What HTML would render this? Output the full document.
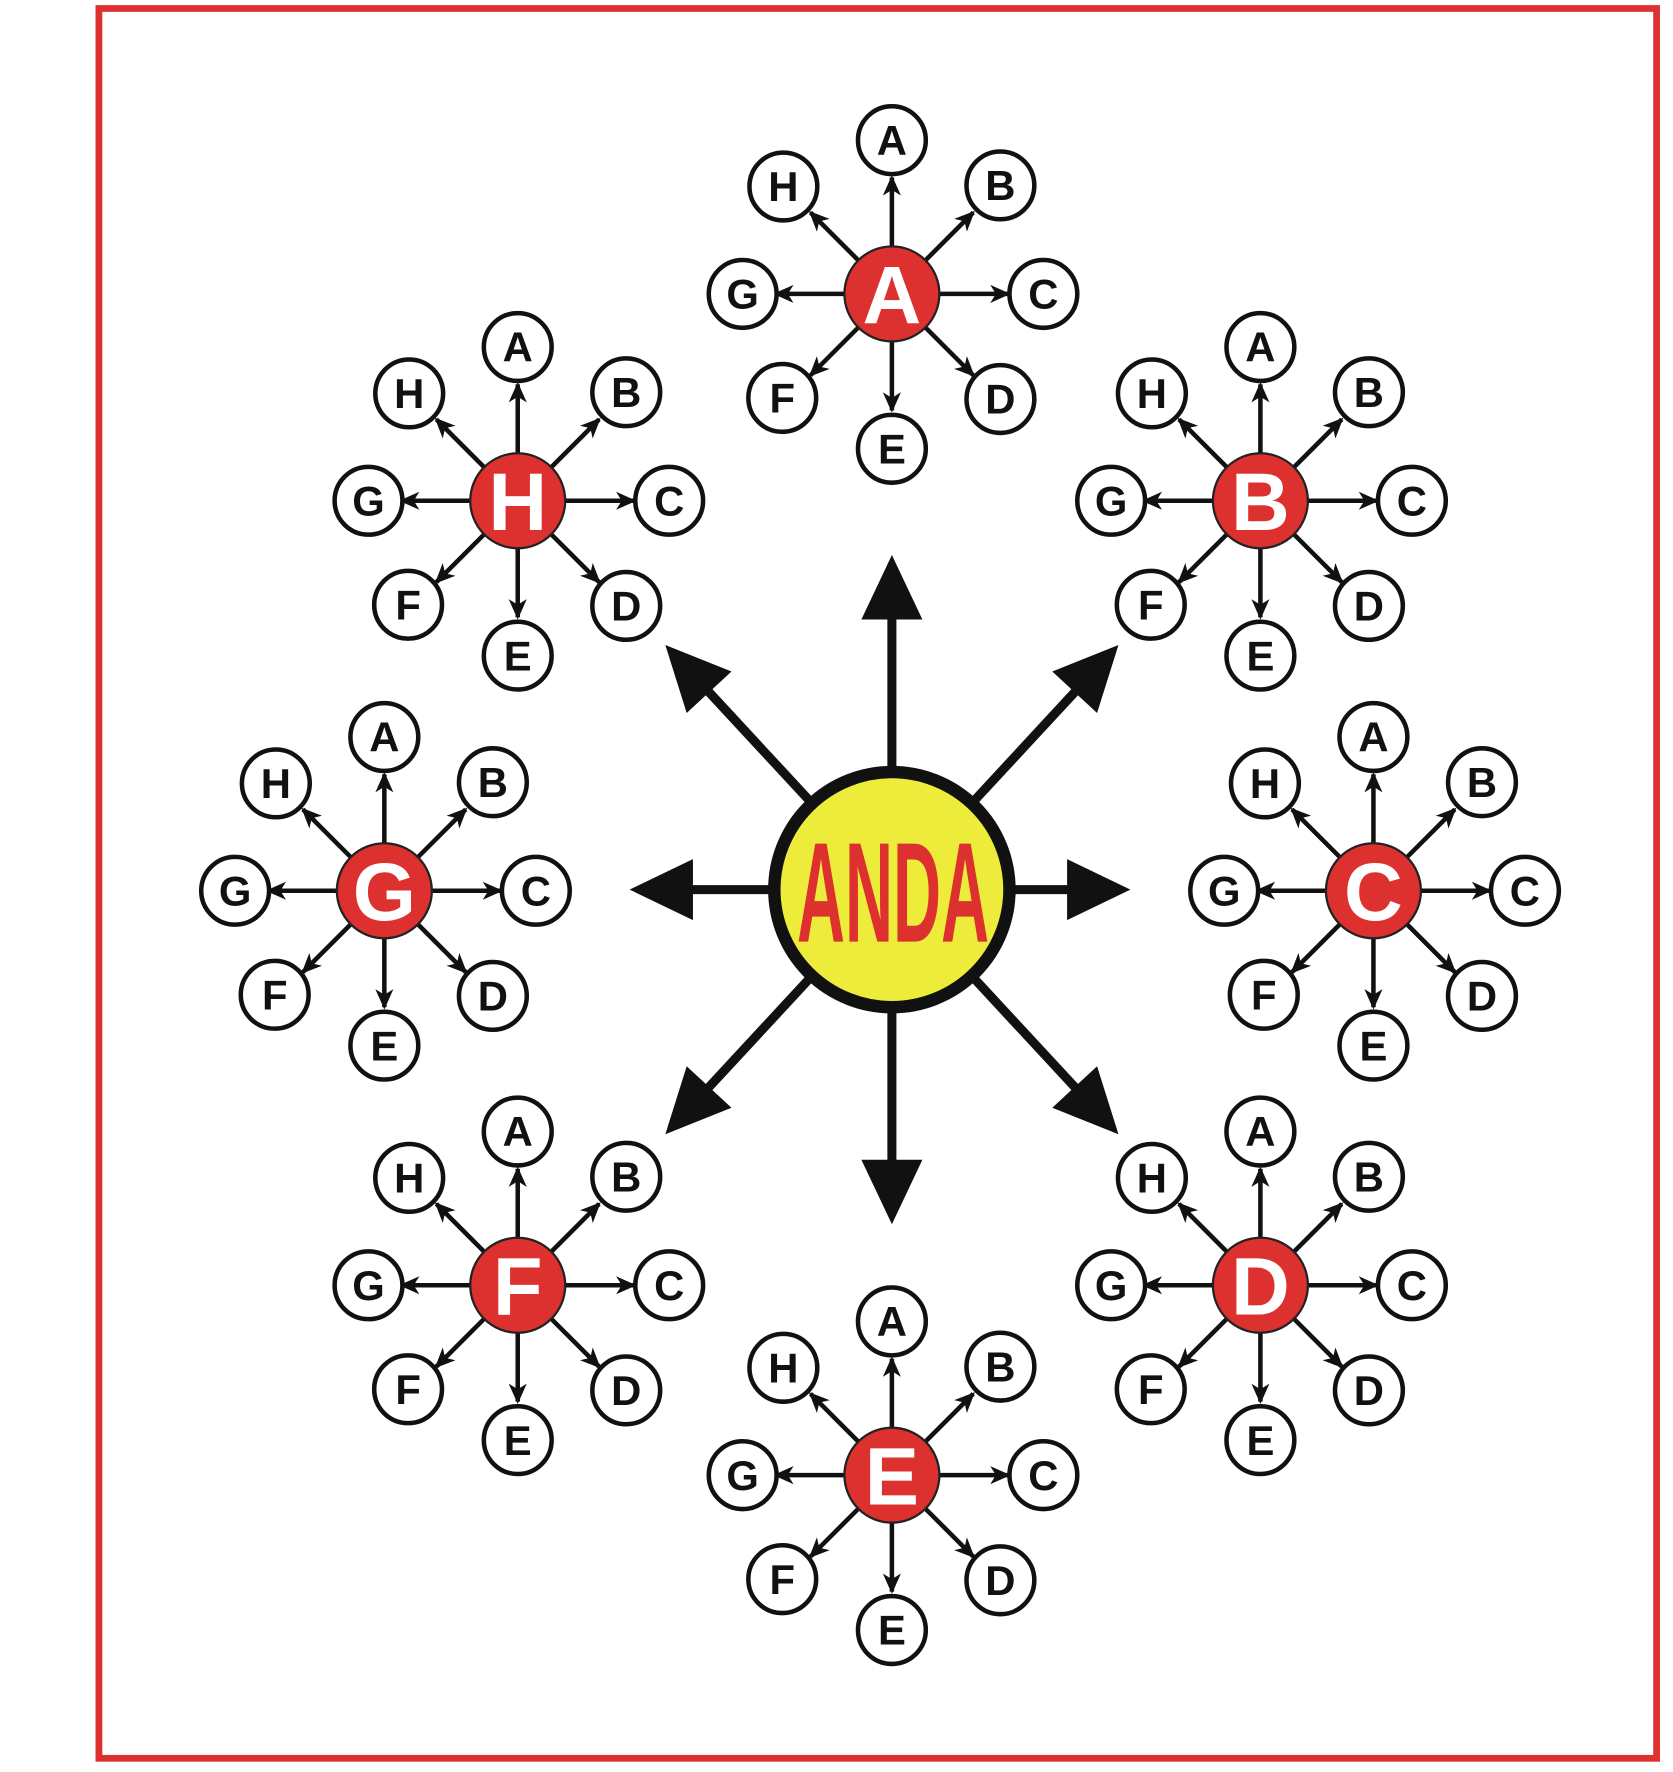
<!DOCTYPE html>
<html><head><meta charset="utf-8"><style>
html,body{margin:0;padding:0;background:#fff;}
svg{display:block;}
.s{fill:#fff;stroke:#111;stroke-width:4;}
.h{fill:#dd3130;stroke:#222;stroke-width:2;}
.t{font-family:"Liberation Sans",sans-serif;font-weight:bold;font-size:37px;fill:#111;text-anchor:middle;}
.ht{font-family:"Liberation Sans",sans-serif;font-weight:bold;font-size:72px;fill:#fff;text-anchor:middle;}
</style></head><body>
<svg width="1673" height="1772" viewBox="0 0 1480 1567.6" xmlns="http://www.w3.org/2000/svg">
<defs>
<marker id="m" markerUnits="userSpaceOnUse" markerWidth="18" markerHeight="16" refX="16" refY="8" orient="auto" viewBox="0 0 18 16">
<path d="M0,0 L18,8 L0,16 L5,8 z" fill="#111"/>
</marker>
</defs>
<rect x="87.5" y="7.5" width="1378" height="1548" fill="none" stroke="#dd3130" stroke-width="6"/>

<!-- big arrows -->
<g fill="#111" stroke="#111">
<g transform="rotate(0 789 787)"><line x1="789" y1="787" x2="789" y2="540" stroke-width="8"/><polygon points="789,491 762,548 816,548" stroke="none"/></g>
<g transform="rotate(180 789 787)"><line x1="789" y1="787" x2="789" y2="540" stroke-width="8"/><polygon points="789,491 762,548 816,548" stroke="none"/></g>
<g transform="rotate(42.8 789 787)"><line x1="789" y1="787" x2="789" y2="540" stroke-width="8"/><polygon points="789,492 762,549 816,549" stroke="none"/></g>
<g transform="rotate(-42.8 789 787)"><line x1="789" y1="787" x2="789" y2="540" stroke-width="8"/><polygon points="789,492 762,549 816,549" stroke="none"/></g>
<g transform="rotate(137.2 789 787)"><line x1="789" y1="787" x2="789" y2="540" stroke-width="8"/><polygon points="789,492 762,549 816,549" stroke="none"/></g>
<g transform="rotate(-137.2 789 787)"><line x1="789" y1="787" x2="789" y2="540" stroke-width="8"/><polygon points="789,492 762,549 816,549" stroke="none"/></g>
<g transform="rotate(90 789 787)"><line x1="789" y1="787" x2="789" y2="620" stroke-width="8"/><polygon points="789,576 762,632 816,632" stroke="none"/></g>
<g transform="rotate(-90 789 787)"><line x1="789" y1="787" x2="789" y2="600" stroke-width="8"/><polygon points="789,555 762,611 816,611" stroke="none"/></g>
</g>
<circle cx="789" cy="787" r="104" fill="#eeec3a" stroke="#111" stroke-width="11"/>
<text x="790" y="833" font-family="Liberation Sans, sans-serif" font-weight="bold" font-size="126" fill="#dd3130" text-anchor="middle" textLength="170" lengthAdjust="spacingAndGlyphs">ANDA</text>

<!-- cluster A -->
<g transform="translate(789 260)">
<g stroke="#111" stroke-width="4" marker-end="url(#m)"><line x1="0" y1="-42" x2="0" y2="-103"/><line x1="30" y1="-30" x2="72" y2="-72"/><line x1="42" y1="0" x2="103" y2="0"/><line x1="30" y1="30" x2="72" y2="72"/><line x1="0" y1="42" x2="0" y2="103"/><line x1="-30" y1="30" x2="-72" y2="72"/><line x1="-42" y1="0" x2="-103" y2="0"/><line x1="-30" y1="-30" x2="-72" y2="-72"/></g>
<circle class="h" r="42"/><text class="ht" y="26">A</text>
<circle class="s" cx="0" cy="-136" r="30"/><text class="t" x="0" y="-123">A</text>
<circle class="s" cx="96" cy="-96" r="30"/><text class="t" x="96" y="-83">B</text>
<circle class="s" cx="134" cy="0" r="30"/><text class="t" x="134" y="13">C</text>
<circle class="s" cx="96" cy="93" r="30"/><text class="t" x="96" y="106">D</text>
<circle class="s" cx="0" cy="137" r="30"/><text class="t" x="0" y="150">E</text>
<circle class="s" cx="-97" cy="92" r="30"/><text class="t" x="-97" y="105">F</text>
<circle class="s" cx="-132" cy="0" r="30"/><text class="t" x="-132" y="13">G</text>
<circle class="s" cx="-96" cy="-95" r="30"/><text class="t" x="-96" y="-82">H</text>
</g>
<!-- cluster B -->
<g transform="translate(1115 443)">
<g stroke="#111" stroke-width="4" marker-end="url(#m)"><line x1="0" y1="-42" x2="0" y2="-103"/><line x1="30" y1="-30" x2="72" y2="-72"/><line x1="42" y1="0" x2="103" y2="0"/><line x1="30" y1="30" x2="72" y2="72"/><line x1="0" y1="42" x2="0" y2="103"/><line x1="-30" y1="30" x2="-72" y2="72"/><line x1="-42" y1="0" x2="-103" y2="0"/><line x1="-30" y1="-30" x2="-72" y2="-72"/></g>
<circle class="h" r="42"/><text class="ht" y="26">B</text>
<circle class="s" cx="0" cy="-136" r="30"/><text class="t" x="0" y="-123">A</text>
<circle class="s" cx="96" cy="-96" r="30"/><text class="t" x="96" y="-83">B</text>
<circle class="s" cx="134" cy="0" r="30"/><text class="t" x="134" y="13">C</text>
<circle class="s" cx="96" cy="93" r="30"/><text class="t" x="96" y="106">D</text>
<circle class="s" cx="0" cy="137" r="30"/><text class="t" x="0" y="150">E</text>
<circle class="s" cx="-97" cy="92" r="30"/><text class="t" x="-97" y="105">F</text>
<circle class="s" cx="-132" cy="0" r="30"/><text class="t" x="-132" y="13">G</text>
<circle class="s" cx="-96" cy="-95" r="30"/><text class="t" x="-96" y="-82">H</text>
</g>
<!-- cluster C -->
<g transform="translate(1215 788)">
<g stroke="#111" stroke-width="4" marker-end="url(#m)"><line x1="0" y1="-42" x2="0" y2="-103"/><line x1="30" y1="-30" x2="72" y2="-72"/><line x1="42" y1="0" x2="103" y2="0"/><line x1="30" y1="30" x2="72" y2="72"/><line x1="0" y1="42" x2="0" y2="103"/><line x1="-30" y1="30" x2="-72" y2="72"/><line x1="-42" y1="0" x2="-103" y2="0"/><line x1="-30" y1="-30" x2="-72" y2="-72"/></g>
<circle class="h" r="42"/><text class="ht" y="26">C</text>
<circle class="s" cx="0" cy="-136" r="30"/><text class="t" x="0" y="-123">A</text>
<circle class="s" cx="96" cy="-96" r="30"/><text class="t" x="96" y="-83">B</text>
<circle class="s" cx="134" cy="0" r="30"/><text class="t" x="134" y="13">C</text>
<circle class="s" cx="96" cy="93" r="30"/><text class="t" x="96" y="106">D</text>
<circle class="s" cx="0" cy="137" r="30"/><text class="t" x="0" y="150">E</text>
<circle class="s" cx="-97" cy="92" r="30"/><text class="t" x="-97" y="105">F</text>
<circle class="s" cx="-132" cy="0" r="30"/><text class="t" x="-132" y="13">G</text>
<circle class="s" cx="-96" cy="-95" r="30"/><text class="t" x="-96" y="-82">H</text>
</g>
<!-- cluster D -->
<g transform="translate(1115 1137)">
<g stroke="#111" stroke-width="4" marker-end="url(#m)"><line x1="0" y1="-42" x2="0" y2="-103"/><line x1="30" y1="-30" x2="72" y2="-72"/><line x1="42" y1="0" x2="103" y2="0"/><line x1="30" y1="30" x2="72" y2="72"/><line x1="0" y1="42" x2="0" y2="103"/><line x1="-30" y1="30" x2="-72" y2="72"/><line x1="-42" y1="0" x2="-103" y2="0"/><line x1="-30" y1="-30" x2="-72" y2="-72"/></g>
<circle class="h" r="42"/><text class="ht" y="26">D</text>
<circle class="s" cx="0" cy="-136" r="30"/><text class="t" x="0" y="-123">A</text>
<circle class="s" cx="96" cy="-96" r="30"/><text class="t" x="96" y="-83">B</text>
<circle class="s" cx="134" cy="0" r="30"/><text class="t" x="134" y="13">C</text>
<circle class="s" cx="96" cy="93" r="30"/><text class="t" x="96" y="106">D</text>
<circle class="s" cx="0" cy="137" r="30"/><text class="t" x="0" y="150">E</text>
<circle class="s" cx="-97" cy="92" r="30"/><text class="t" x="-97" y="105">F</text>
<circle class="s" cx="-132" cy="0" r="30"/><text class="t" x="-132" y="13">G</text>
<circle class="s" cx="-96" cy="-95" r="30"/><text class="t" x="-96" y="-82">H</text>
</g>
<!-- cluster E -->
<g transform="translate(789 1305)">
<g stroke="#111" stroke-width="4" marker-end="url(#m)"><line x1="0" y1="-42" x2="0" y2="-103"/><line x1="30" y1="-30" x2="72" y2="-72"/><line x1="42" y1="0" x2="103" y2="0"/><line x1="30" y1="30" x2="72" y2="72"/><line x1="0" y1="42" x2="0" y2="103"/><line x1="-30" y1="30" x2="-72" y2="72"/><line x1="-42" y1="0" x2="-103" y2="0"/><line x1="-30" y1="-30" x2="-72" y2="-72"/></g>
<circle class="h" r="42"/><text class="ht" y="26">E</text>
<circle class="s" cx="0" cy="-136" r="30"/><text class="t" x="0" y="-123">A</text>
<circle class="s" cx="96" cy="-96" r="30"/><text class="t" x="96" y="-83">B</text>
<circle class="s" cx="134" cy="0" r="30"/><text class="t" x="134" y="13">C</text>
<circle class="s" cx="96" cy="93" r="30"/><text class="t" x="96" y="106">D</text>
<circle class="s" cx="0" cy="137" r="30"/><text class="t" x="0" y="150">E</text>
<circle class="s" cx="-97" cy="92" r="30"/><text class="t" x="-97" y="105">F</text>
<circle class="s" cx="-132" cy="0" r="30"/><text class="t" x="-132" y="13">G</text>
<circle class="s" cx="-96" cy="-95" r="30"/><text class="t" x="-96" y="-82">H</text>
</g>
<!-- cluster F -->
<g transform="translate(458 1137)">
<g stroke="#111" stroke-width="4" marker-end="url(#m)"><line x1="0" y1="-42" x2="0" y2="-103"/><line x1="30" y1="-30" x2="72" y2="-72"/><line x1="42" y1="0" x2="103" y2="0"/><line x1="30" y1="30" x2="72" y2="72"/><line x1="0" y1="42" x2="0" y2="103"/><line x1="-30" y1="30" x2="-72" y2="72"/><line x1="-42" y1="0" x2="-103" y2="0"/><line x1="-30" y1="-30" x2="-72" y2="-72"/></g>
<circle class="h" r="42"/><text class="ht" y="26">F</text>
<circle class="s" cx="0" cy="-136" r="30"/><text class="t" x="0" y="-123">A</text>
<circle class="s" cx="96" cy="-96" r="30"/><text class="t" x="96" y="-83">B</text>
<circle class="s" cx="134" cy="0" r="30"/><text class="t" x="134" y="13">C</text>
<circle class="s" cx="96" cy="93" r="30"/><text class="t" x="96" y="106">D</text>
<circle class="s" cx="0" cy="137" r="30"/><text class="t" x="0" y="150">E</text>
<circle class="s" cx="-97" cy="92" r="30"/><text class="t" x="-97" y="105">F</text>
<circle class="s" cx="-132" cy="0" r="30"/><text class="t" x="-132" y="13">G</text>
<circle class="s" cx="-96" cy="-95" r="30"/><text class="t" x="-96" y="-82">H</text>
</g>
<!-- cluster G -->
<g transform="translate(340 788)">
<g stroke="#111" stroke-width="4" marker-end="url(#m)"><line x1="0" y1="-42" x2="0" y2="-103"/><line x1="30" y1="-30" x2="72" y2="-72"/><line x1="42" y1="0" x2="103" y2="0"/><line x1="30" y1="30" x2="72" y2="72"/><line x1="0" y1="42" x2="0" y2="103"/><line x1="-30" y1="30" x2="-72" y2="72"/><line x1="-42" y1="0" x2="-103" y2="0"/><line x1="-30" y1="-30" x2="-72" y2="-72"/></g>
<circle class="h" r="42"/><text class="ht" y="26">G</text>
<circle class="s" cx="0" cy="-136" r="30"/><text class="t" x="0" y="-123">A</text>
<circle class="s" cx="96" cy="-96" r="30"/><text class="t" x="96" y="-83">B</text>
<circle class="s" cx="134" cy="0" r="30"/><text class="t" x="134" y="13">C</text>
<circle class="s" cx="96" cy="93" r="30"/><text class="t" x="96" y="106">D</text>
<circle class="s" cx="0" cy="137" r="30"/><text class="t" x="0" y="150">E</text>
<circle class="s" cx="-97" cy="92" r="30"/><text class="t" x="-97" y="105">F</text>
<circle class="s" cx="-132" cy="0" r="30"/><text class="t" x="-132" y="13">G</text>
<circle class="s" cx="-96" cy="-95" r="30"/><text class="t" x="-96" y="-82">H</text>
</g>
<!-- cluster H -->
<g transform="translate(458 443)">
<g stroke="#111" stroke-width="4" marker-end="url(#m)"><line x1="0" y1="-42" x2="0" y2="-103"/><line x1="30" y1="-30" x2="72" y2="-72"/><line x1="42" y1="0" x2="103" y2="0"/><line x1="30" y1="30" x2="72" y2="72"/><line x1="0" y1="42" x2="0" y2="103"/><line x1="-30" y1="30" x2="-72" y2="72"/><line x1="-42" y1="0" x2="-103" y2="0"/><line x1="-30" y1="-30" x2="-72" y2="-72"/></g>
<circle class="h" r="42"/><text class="ht" y="26">H</text>
<circle class="s" cx="0" cy="-136" r="30"/><text class="t" x="0" y="-123">A</text>
<circle class="s" cx="96" cy="-96" r="30"/><text class="t" x="96" y="-83">B</text>
<circle class="s" cx="134" cy="0" r="30"/><text class="t" x="134" y="13">C</text>
<circle class="s" cx="96" cy="93" r="30"/><text class="t" x="96" y="106">D</text>
<circle class="s" cx="0" cy="137" r="30"/><text class="t" x="0" y="150">E</text>
<circle class="s" cx="-97" cy="92" r="30"/><text class="t" x="-97" y="105">F</text>
<circle class="s" cx="-132" cy="0" r="30"/><text class="t" x="-132" y="13">G</text>
<circle class="s" cx="-96" cy="-95" r="30"/><text class="t" x="-96" y="-82">H</text>
</g>
</svg>
</body></html>
